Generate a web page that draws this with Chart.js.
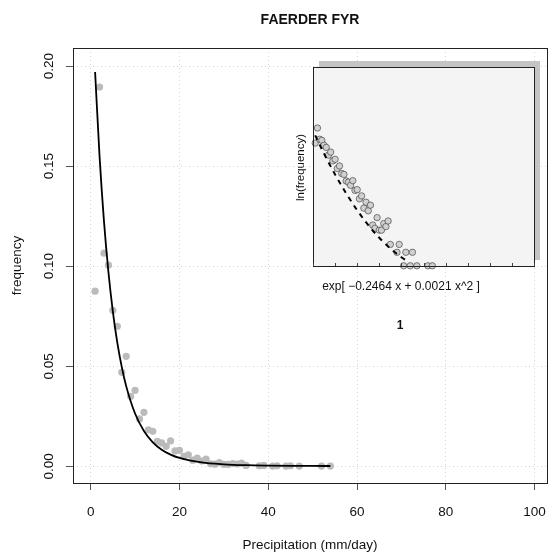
<!DOCTYPE html>
<html>
<head>
<meta charset="utf-8">
<title>FAERDER FYR</title>
<script src="https://cdn.jsdelivr.net/npm/chart.js@4.4.1/dist/chart.umd.min.js"></script>
<style>
  html, body { margin: 0; padding: 0; background: #fff; }
  #wrap { position: relative; width: 551px; height: 556px; }
  #main { position: absolute; left: 0; top: 0; }
  #inset { position: absolute; left: 303px; top: 57px; }
</style>
</head>
<body>
<div id="wrap">
  <canvas id="main" width="551" height="556"></canvas>
  <canvas id="inset" width="241" height="219"></canvas>
</div>
<script>
// valores
const precip = [1, 2, 3, 4, 5, 6, 7, 8, 9, 10, 11, 12, 13, 14, 15, 16, 17, 18, 19, 20,
  21, 22, 23, 24, 25, 26, 27, 28, 29, 30, 31, 32, 33, 34, 35, 38, 39, 41, 42, 44, 45, 47, 52, 54];
const freq = [0.0875, 0.1895, 0.1065, 0.1005, 0.0780, 0.0700, 0.0470, 0.0550, 0.0350, 0.0380,
  0.0237, 0.0270, 0.0183, 0.0175, 0.0125, 0.0117, 0.0100, 0.0127, 0.0077, 0.0080,
  0.0050, 0.0058, 0.0031, 0.0042, 0.0027, 0.0036, 0.0013, 0.0011, 0.0019, 0.0010,
  0.0010, 0.0014, 0.0012, 0.0016, 0.00048, 0.00032, 0.00048, 0.00016, 0.00032, 0.00016,
  0.00032, 0.00016, 0.00016, 0.00016];

// curva ajustada (lida ao longo da linha preta)
const fitX = [1, 2, 3, 4, 5, 6, 7, 8, 10, 12, 14, 16, 18, 20, 25, 30, 35, 40, 45, 50, 54];
const fitY = [0.197, 0.155, 0.1224, 0.0971, 0.0773, 0.0618, 0.0497, 0.0401, 0.0264, 0.01768,
  0.01205, 0.00835, 0.00589, 0.00422, 0.00197, 0.00103, 0.00059, 0.00038, 0.00027, 0.00021, 0.00019];

// linha tracejada do grafico pequeno (escala ln)
const dashX = [1, 5, 10, 15, 20, 25, 30, 35, 40, 42.5];
const dashY = [-2.04, -2.98, -4.05, -5.02, -5.89, -6.65, -7.30, -7.85, -8.30, -8.48];

const xTicks = [0, 20, 40, 60, 80, 100];
const yTicks = [0, 0.05, 0.10, 0.15, 0.20];
const yTickLabels = ['0.00', '0.05', '0.10', '0.15', '0.20'];
const insetTicks = [0, 10, 20, 30, 40, 50, 60, 70, 80, 90, 100];

const FONT = '"Liberation Sans", Arial, Helvetica, sans-serif';

// textos e moldura do grafico principal
const mainDecor = {
  id: 'mainDecor',
  afterDraw(chart) {
    const ctx = chart.ctx;
    const a = chart.chartArea;
    const y = chart.scales.y;
    ctx.save();
    ctx.strokeStyle = '#222';
    ctx.lineWidth = 1;
    ctx.strokeRect(a.left + 0.5, a.top + 0.5, a.right - a.left, a.bottom - a.top);

    ctx.fillStyle = '#111';
    ctx.textAlign = 'center';
    ctx.textBaseline = 'middle';
    ctx.font = '13.5px ' + FONT;
    yTicks.forEach((v, i) => {
      ctx.save();
      ctx.translate(49, y.getPixelForValue(v));
      ctx.rotate(-Math.PI / 2);
      ctx.fillText(yTickLabels[i], 0, 0);
      ctx.restore();
    });

    ctx.font = 'bold 14px ' + FONT;
    ctx.fillText('FAERDER FYR', (a.left + a.right) / 2, 20);
    ctx.font = '13.5px ' + FONT;
    ctx.fillText('Precipitation (mm/day)', (a.left + a.right) / 2, 545);
    ctx.save();
    ctx.translate(17, (a.top + a.bottom) / 2);
    ctx.rotate(-Math.PI / 2);
    ctx.fillText('frequency', 0, 0);
    ctx.restore();

    // rotulos do grafico pequeno
    ctx.font = '11.5px ' + FONT;
    ctx.save();
    ctx.translate(301, 167.5);
    ctx.rotate(-Math.PI / 2);
    ctx.fillText('ln(frequency)', 0, 0);
    ctx.restore();
    ctx.font = '12px ' + FONT;
    ctx.fillText('exp[ \u22120.2464 x + 0.0021 x^2 ]', 401, 287);
    ctx.font = 'bold 12px ' + FONT;
    ctx.fillText('1', 400, 326);
    ctx.restore();
  }
};

new Chart(document.getElementById('main'), {
  type: 'scatter',
  data: {
    datasets: [
      {
        type: 'line',
        data: fitX.map((x, i) => ({ x: x, y: fitY[i] })),
        borderColor: '#000',
        borderWidth: 1.8,
        pointRadius: 0,
        fill: false,
        cubicInterpolationMode: 'monotone'
      },
      {
        data: precip.map((x, i) => ({ x: x, y: freq[i] })),
        backgroundColor: '#bbbbbb',
        borderWidth: 0,
        pointRadius: 3.6
      }
    ]
  },
  options: {
    responsive: false,
    animation: false,
    devicePixelRatio: 1,
    layout: { padding: { top: 48, right: 3, left: 0, bottom: 0 } },
    plugins: { legend: { display: false }, tooltip: { enabled: false } },
    scales: {
      x: {
        type: 'linear',
        min: -3.98,
        max: 102.8,
        afterBuildTicks: s => { s.ticks = xTicks.map(v => ({ value: v })); },
        afterFit: s => { s.height = 73; s.paddingLeft = 0; s.paddingRight = 0; },
        border: { display: false, dash: [1, 3] },
        grid: { color: '#d6d6d6', tickColor: '#555', tickBorderDash: [], tickLength: 7 },
        ticks: { autoSkip: false, maxRotation: 0, padding: 14, color: '#111',
          font: { size: 13.5, family: FONT }, callback: v => String(v) }
      },
      y: {
        type: 'linear',
        min: -0.0083,
        max: 0.209,
        afterBuildTicks: s => { s.ticks = yTicks.map(v => ({ value: v })); },
        afterFit: s => { s.width = 73; s.paddingTop = 0; s.paddingBottom = 0; },
        border: { display: false, dash: [1, 3] },
        grid: { color: '#d6d6d6', tickColor: '#555', tickBorderDash: [], tickLength: 7 },
        ticks: { display: false }
      }
    }
  },
  plugins: [mainDecor]
});

// grafico pequeno: sombra, fundo, moldura e marcas
const insetDecor = {
  id: 'insetDecor',
  beforeDraw(chart) {
    const ctx = chart.ctx;
    const a = chart.chartArea;
    ctx.save();
    ctx.fillStyle = '#c4c4c4';
    ctx.fillRect(a.left + 6, a.top - 6, a.right - a.left, a.bottom - a.top);
    ctx.fillStyle = '#f4f4f4';
    ctx.fillRect(a.left, a.top, a.right - a.left, a.bottom - a.top);
    ctx.restore();
  },
  afterDraw(chart) {
    const ctx = chart.ctx;
    const a = chart.chartArea;
    const x = chart.scales.x;
    ctx.save();
    ctx.strokeStyle = '#222';
    ctx.lineWidth = 1;
    ctx.strokeRect(a.left + 0.5, a.top + 0.5, a.right - a.left, a.bottom - a.top);
    ctx.strokeStyle = '#444';
    insetTicks.forEach(v => {
      const px = Math.round(x.getPixelForValue(v)) + 0.5;
      ctx.beginPath();
      ctx.moveTo(px, a.bottom);
      ctx.lineTo(px, a.bottom - 3);
      ctx.stroke();
    });
    ctx.restore();
  }
};

new Chart(document.getElementById('inset'), {
  type: 'scatter',
  data: {
    datasets: [
      {
        type: 'line',
        data: dashX.map((x, i) => ({ x: x, y: dashY[i] })),
        borderColor: '#000',
        borderWidth: 2,
        borderDash: [5, 5],
        pointRadius: 0,
        fill: false,
        cubicInterpolationMode: 'monotone',
        clip: false
      },
      {
        data: precip.map((x, i) => ({ x: x, y: Math.log(freq[i]) })),
        backgroundColor: '#d0d0d0',
        borderColor: '#333',
        borderWidth: 0.6,
        pointRadius: 3.2,
        clip: false
      }
    ]
  },
  options: {
    responsive: false,
    animation: false,
    devicePixelRatio: 1,
    layout: { padding: 10 },
    plugins: { legend: { display: false }, tooltip: { enabled: false } },
    scales: {
      x: { type: 'linear', min: 0, max: 100, display: false },
      y: { type: 'linear', min: -8.75, max: 1.47, display: false }
    }
  },
  plugins: [insetDecor]
});
</script>
</body>
</html>
